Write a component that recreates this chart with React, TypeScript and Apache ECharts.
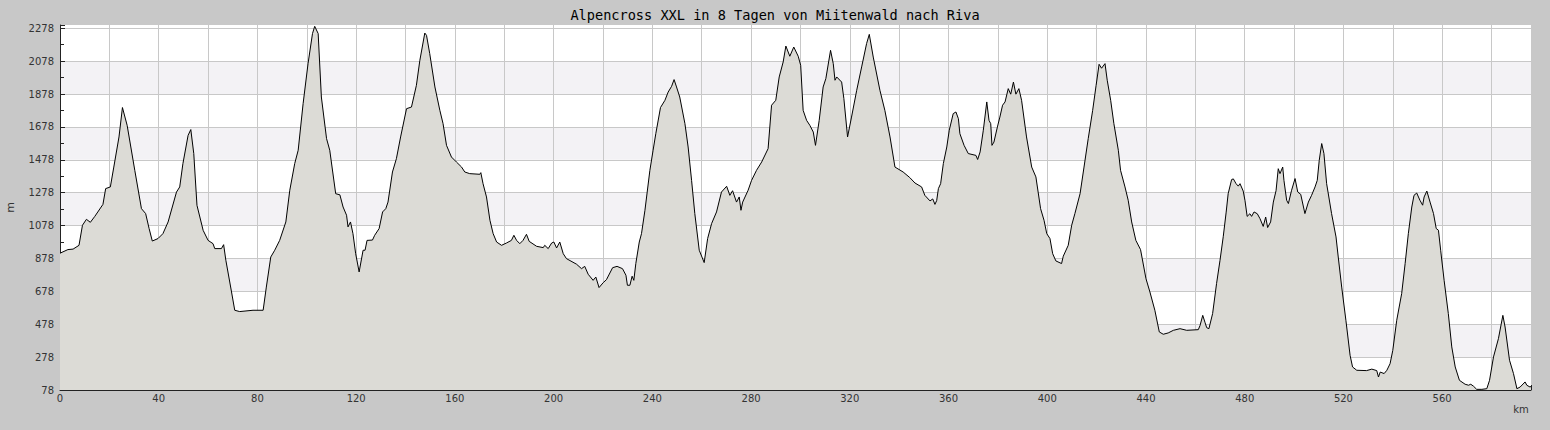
import React, { useEffect, useRef } from "react";
import * as echarts from "echarts";

const TITLE = "Alpencross XXL in 8 Tagen von Miitenwald nach Riva";

// distance along the route (km)
const distanceKm: number[] = [
  0, 3.2, 5.3, 7.7, 9.1, 10.7, 12.3, 14.1, 17.4, 18.5, 20.4, 21.8, 23.9, 25.3, 27.2, 30.3, 33.0, 34.7, 36.1, 37.4,
  39.7, 41.7, 43.8, 47.2, 48.5, 49.8, 51.9, 53.0, 54.2, 55.5, 58.0, 60.0, 62.0, 62.7, 65.4, 66.3, 67.2, 69.5, 70.8, 72.8,
  78.2, 82.3, 83.6, 85.4, 87.0, 89.0, 91.5, 93.1, 95.1, 96.5, 98.5, 100.5, 102.3, 103.2, 104.6, 105.9, 108.0, 109.3, 111.7, 113.4,
  114.7, 116.1, 116.7, 117.7, 118.7, 119.8, 121.2, 122.8, 123.6, 124.4, 126.6, 127.5, 129.3, 130.7, 132.0, 132.9, 134.7, 136.3, 138.0, 140.4,
  142.4, 144.4, 145.8, 147.8, 148.5, 149.8, 151.9, 153.9, 155.2, 156.6, 158.6, 160.6, 162.7, 164.0, 166.0, 170.1, 170.5, 171.4, 172.8, 174.2,
  175.5, 176.9, 178.9, 180.9, 182.9, 183.9, 185.0, 186.3, 187.6, 189.0, 190.1, 193.1, 195.8, 196.4, 197.8, 199.2, 200.1, 201.2, 202.5, 203.9,
  205.2, 209.3, 211.3, 212.6, 214.0, 216.0, 217.1, 218.4, 220.1, 221.4, 223.9, 225.7, 227.9, 229.3, 229.9, 230.9, 231.8, 232.5, 233.3, 234.7,
  235.6, 237.0, 239.0, 240.3, 241.4, 243.3, 245.1, 246.4, 247.8, 248.8, 249.8, 251.1, 253.2, 254.5, 255.9, 257.2, 259.0, 261.0, 262.4, 264.0,
  266.0, 268.0, 270.1, 271.4, 272.5, 274.1, 275.2, 275.9, 276.6, 278.8, 280.2, 282.2, 284.3, 286.9, 288.3, 290.0, 291.4, 293.0, 294.1, 295.7,
  297.3, 299.1, 300.1, 301.1, 302.5, 303.8, 305.2, 306.1, 307.6, 309.2, 310.3, 312.2, 313.3, 314.0, 314.7, 316.7, 317.6, 319.1, 320.7, 322.8,
  324.8, 326.8, 327.9, 329.5, 332.2, 334.2, 336.3, 338.3, 341.6, 344.3, 346.4, 349.1, 350.4, 352.5, 353.6, 354.5, 355.2, 355.9, 356.8, 357.9,
  359.3, 360.3, 361.9, 363.0, 364.0, 364.6, 366.3, 368.0, 371.1, 371.8, 372.8, 374.1, 375.5, 376.4, 377.1, 377.6, 378.4, 379.8, 380.8, 381.9,
  382.9, 384.2, 385.2, 386.3, 387.3, 388.5, 389.6, 391.6, 393.7, 395.4, 397.3, 398.7, 399.8, 401.1, 402.2, 403.5, 405.8, 406.5, 408.5, 409.9,
  411.2, 413.3, 414.9, 416.6, 418.4, 419.8, 421.0, 422.0, 423.4, 424.3, 425.7, 427.0, 428.8, 429.7, 431.5, 432.8, 434.2, 435.9, 437.8, 440.0,
  441.6, 443.6, 445.4, 447.0, 449.0, 451.1, 453.8, 456.5, 461.2, 461.9, 463.0, 463.9, 464.6, 465.5, 467.0, 468.6, 470.0, 471.3, 472.5, 473.3,
  474.7, 475.4, 476.5, 477.4, 478.1, 479.4, 480.1, 481.0, 482.1, 482.8, 483.8, 485.1, 486.2, 487.5, 488.5, 489.3, 490.5, 491.6, 492.7, 493.6,
  494.3, 495.4, 495.9, 497.0, 497.7, 499.0, 500.4, 501.5, 502.7, 504.4, 505.8, 507.1, 508.5, 509.4, 510.2, 511.2, 512.1, 513.2, 515.2, 517.0,
  517.9, 519.3, 521.0, 522.7, 523.7, 525.4, 529.4, 531.5, 533.5, 534.2, 534.9, 536.5, 537.6, 538.9, 540.0, 541.6, 543.6, 545.0, 546.3, 547.7,
  548.6, 549.7, 551.0, 552.1, 552.7, 553.8, 555.1, 556.5, 557.6, 558.5, 559.4, 560.8, 562.5, 563.9, 565.3, 567.0, 569.3, 570.7, 571.6, 572.7,
  574.0, 576.1, 578.1, 579.2, 580.8, 582.8, 584.6, 585.5, 587.3, 588.9, 590.3, 591.6, 593.6, 594.3, 595.6, 596,
];

// elevation (m)
const elevationM: number[] = [
  910, 932, 935, 958, 1080, 1116, 1098, 1134, 1207, 1303, 1313, 1434, 1617, 1796, 1688, 1414, 1181, 1151, 1060, 984,
  999, 1029, 1100, 1282, 1313, 1455, 1627, 1662, 1516, 1201, 1049, 988, 968, 938, 938, 962, 867, 674, 563, 555,
  563, 563, 704, 887, 928, 988, 1100, 1293, 1455, 1536, 1820, 2063, 2246, 2290, 2246, 1860, 1607, 1536, 1272, 1265,
  1191, 1141, 1070, 1100, 1029, 907, 796, 928, 928, 988, 990, 1019, 1060, 1161, 1181, 1221, 1404, 1485, 1617, 1789,
  1799, 1931, 2083, 2249, 2235, 2124, 1921, 1779, 1698, 1566, 1495, 1465, 1434, 1404, 1394, 1390, 1400, 1333, 1252, 1110,
  1029, 978, 958, 972, 988, 1019, 988, 968, 988, 1025, 982, 952, 944, 958, 938, 972, 978, 942, 978, 907,
  877, 843, 816, 830, 782, 745, 765, 701, 731, 749, 822, 830, 816, 776, 715, 715, 770, 745, 847, 978,
  1029, 1171, 1414, 1536, 1637, 1796, 1840, 1890, 1925, 1966, 1921, 1860, 1698, 1556, 1353, 1151, 928, 853, 999, 1090,
  1161, 1282, 1317, 1262, 1290, 1221, 1252, 1171, 1221, 1293, 1353, 1414, 1465, 1546, 1810, 1840, 1982, 2073, 2170, 2108,
  2164, 2108, 2053, 1779, 1718, 1688, 1647, 1566, 1718, 1921, 1972, 2144, 2063, 1962, 1982, 1951, 1850, 1617, 1738, 1901,
  2043, 2185, 2241, 2103, 1901, 1779, 1617, 1434, 1404, 1370, 1337, 1313, 1262, 1228, 1240, 1207, 1230, 1303, 1333, 1455,
  1556, 1658, 1759, 1769, 1728, 1637, 1566, 1516, 1505, 1480, 1526, 1658, 1830, 1718, 1698, 1566, 1586, 1678, 1738, 1810,
  1830, 1911, 1877, 1951, 1877, 1911, 1840, 1617, 1434, 1374, 1181, 1110, 1029, 999, 907, 863, 847, 892, 958, 1080,
  1151, 1272, 1434, 1607, 1779, 1931, 2059, 2035, 2063, 1962, 1840, 1698, 1536, 1414, 1313, 1232, 1100, 988, 932, 755,
  674, 563, 431, 417, 425, 441, 451, 441, 445, 470, 532, 490, 457, 451, 543, 725, 867, 1010, 1160, 1272,
  1358, 1362, 1333, 1318, 1333, 1288, 1232, 1134, 1150, 1134, 1161, 1150, 1120, 1073, 1130, 1066, 1100, 1221, 1290, 1424,
  1394, 1434, 1353, 1232, 1212, 1293, 1364, 1282, 1268, 1151, 1221, 1262, 1313, 1353, 1475, 1577, 1516, 1333, 1151, 1009,
  887, 704, 502, 289, 218, 198, 196, 205, 196, 157, 187, 178, 198, 238, 319, 502, 664, 847, 1029, 1191,
  1262, 1276, 1232, 1202, 1252, 1288, 1221, 1151, 1060, 1050, 928, 745, 543, 340, 218, 137, 113, 107, 113, 101,
  82, 82, 86, 137, 279, 390, 532, 461, 259, 178, 86, 96, 127, 107, 96, 100,
];

const X_MIN = 0;
const X_MAX = 596;
const X_STEP = 20;
const X_LABEL_STEP = 40;
const Y_MIN = 78;
const Y_MAX = 2298;
const Y_STEP = 200;

export default function App() {
  const ref = useRef<HTMLDivElement>(null);

  useEffect(() => {
    if (!ref.current) return;
    const chart = echarts.init(ref.current, undefined, { renderer: "svg" });
    const data = distanceKm.map((d, i) => [d, elevationM[i]]);
    const labelStyle = {
      color: "#333",
      fontFamily: "DejaVu Sans",
      fontSize: 10,
    };
    const stripe = "#f3f2f5";
    chart.setOption({
      animation: false,
      backgroundColor: "#c8c8c8",
      title: {
        text: TITLE,
        left: "center",
        top: 3,
        textStyle: {
          fontFamily: "DejaVu Sans Mono",
          fontSize: 13.6,
          fontWeight: "normal",
          color: "#000",
        },
      },
      grid: {
        left: 60,
        right: 19,
        top: 25,
        bottom: 40,
        containLabel: false,
        outerBoundsMode: "none",
        show: true,
        backgroundColor: "#ffffff",
        borderWidth: 0,
      },
      xAxis: {
        type: "value",
        min: X_MIN,
        max: X_MAX,
        interval: X_STEP,
        name: "km",
        nameLocation: "end",
        nameGap: -10,
        nameTextStyle: {
          ...labelStyle,
          align: "center",
          verticalAlign: "top",
          padding: [14, 0, 0, 0],
        },
        axisLine: { show: true, lineStyle: { color: "#222", width: 1 } },
        axisTick: { show: true, inside: true, length: 5, lineStyle: { color: "#222" } },
        minorTick: { show: true, splitNumber: 2, length: 3, lineStyle: { color: "#222" } },
        axisLabel: {
          ...labelStyle,
          margin: 3,
          showMaxLabel: true,
          formatter: (v: number) => (v % X_LABEL_STEP === 0 ? String(v) : ""),
        },
        splitLine: { show: true, showMaxLine: false, lineStyle: { color: "#c8c8c8", width: 1 } },
      },
      yAxis: {
        type: "value",
        min: Y_MIN,
        max: Y_MAX,
        interval: Y_STEP,
        name: "m",
        nameLocation: "middle",
        nameRotate: 90,
        nameGap: 44,
        nameTextStyle: { ...labelStyle, fontSize: 11 },
        axisLine: { show: true, lineStyle: { color: "#222", width: 1 } },
        axisTick: { show: true, inside: true, length: 5, lineStyle: { color: "#222" } },
        minorTick: { show: true, splitNumber: 2, length: 4, lineStyle: { color: "#222" } },
        axisLabel: {
          ...labelStyle,
          margin: 6,
          formatter: (v: number) => ((v - Y_MIN) % Y_STEP === 0 ? String(v) : ""),
        },
        splitLine: { show: true, showMaxLine: false, lineStyle: { color: "#c8c8c8", width: 1 } },
        splitArea: {
          show: true,
          areaStyle: {
            color: ["#ffffff", stripe, "#ffffff", stripe, "#ffffff", stripe, "#ffffff", stripe, "#ffffff", stripe, "#ffffff", "#ffffff"],
          },
        },
      },
      series: [
        {
          type: "line",
          data,
          showSymbol: false,
          symbol: "none",
          smooth: false,
          clip: true,
          lineStyle: { color: "#000", width: 1 },
          areaStyle: { color: "#dcdbd6", opacity: 1, origin: "start" },
          z: 3,
        },
      ],
    });
    return () => chart.dispose();
  }, []);

  return (
    <div
      ref={ref}
      style={{ position: "fixed", left: 0, top: 0, width: 1550, height: 430 }}
    />
  );
}
